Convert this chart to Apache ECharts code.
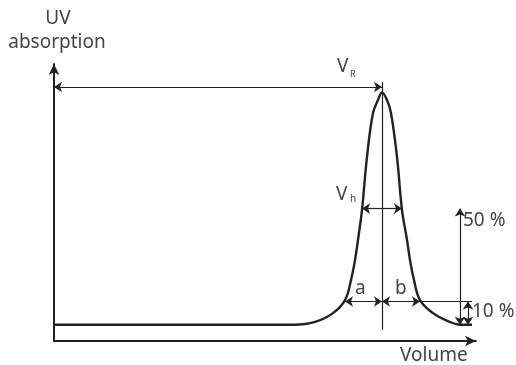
<!DOCTYPE html>
<html>
<head>
<meta charset="utf-8">
<script src="https://cdn.jsdelivr.net/npm/echarts@6/dist/echarts.min.js"></script>
<style>
  html, body { margin: 0; padding: 0; background: #fff; }
  #chart { width: 516px; height: 365px; }
</style>
</head>
<body>
<div id="chart"></div>
<script>
// peak: volume (arbitrary units) vs absorption (% of peak height)
var volume = [0, 60, 65.25, 69.75, 72.75, 74.25, 75.25, 76, 77, 78.25, 79.75, 81, 82,
  83.25, 84.25, 85.75, 87, 88.25, 89, 90, 91.5, 94.75, 99, 101.5, 104.5];
var absorption = [0, 0, 1.2, 5, 10.6, 19.2, 27.8, 36.5, 49.4, 72.2, 91.1, 96.7, 100,
  96.7, 91.1, 72.2, 49.4, 36.5, 27.8, 19.2, 10.6, 5, 1.2, 0, 0];

// annotation geometry (same units)
var peakCenter = 82;          // V_R
var levels = [50, 10];        // 50 % and 10 % of peak height
var halfWidth = [77, 87];     // V_h at 50 %
var tenWidth = [72.75, 91.5]; // a / b at 10 %
var levelEnds = [108.5, 104.5];
var dimX = [101.5, 103.5];
var vrY = 102.3;
var centerLine = [104.4, -2.2];

var ink = "#222";
var textInk = "#444";
var font = "Noto Sans";

function seg(x1, y1, s1, x2, y2, s2) {
  return [
    { coord: [x1, y1], symbol: s1 },
    { coord: [x2, y2], symbol: s2 },
  ];
}

function label(text, x, y, size, align) {
  return {
    type: "text",
    x: x,
    y: y,
    style: {
      text: text,
      fontSize: size,
      fontFamily: font,
      fill: textInk,
      textAlign: align || "left",
      textVerticalAlign: "top",
    },
  };
}

var chart = echarts.init(document.getElementById("chart"), null, { renderer: "canvas" });

var option = {
  animation: false,
  grid: { left: 54, top: 64, width: 422, height: 277 },
  xAxis: {
    type: "value",
    min: 0,
    max: 105.5,
    axisLine: {
      show: true,
      onZero: false,
      symbol: ["none", "arrow"],
      symbolSize: [8, 11],
      lineStyle: { color: ink, width: 2 },
    },
    axisTick: { show: false },
    axisLabel: { show: false },
    splitLine: { show: false },
  },
  yAxis: {
    type: "value",
    min: -7,
    max: 112.2,
    axisLine: {
      show: true,
      onZero: false,
      symbol: ["none", "arrow"],
      symbolSize: [8, 11],
      lineStyle: { color: ink, width: 2 },
    },
    axisTick: { show: false },
    axisLabel: { show: false },
    splitLine: { show: false },
  },
  series: [
    {
      type: "line",
      data: volume.map(function (v, i) { return [v, absorption[i]]; }),
      smooth: 0.4,
      showSymbol: false,
      clip: false,
      lineStyle: { color: ink, width: 2.4 },
      markLine: {
        silent: true,
        symbolSize: 8,
        label: { show: false },
        lineStyle: { color: ink, width: 1.2, type: "solid" },
        data: [
          seg(0, vrY, "arrow", peakCenter, vrY, "arrow"),
          seg(peakCenter, centerLine[0], "none", peakCenter, centerLine[1], "none"),
          seg(halfWidth[0], levels[0], "none", levelEnds[0], levels[0], "none"),
          seg(peakCenter, levels[0], "none", halfWidth[0], levels[0], "arrow"),
          seg(peakCenter, levels[0], "none", halfWidth[1], levels[0], "arrow"),
          seg(tenWidth[0], levels[1], "none", levelEnds[1], levels[1], "none"),
          seg(tenWidth[0], levels[1], "arrow", peakCenter, levels[1], "arrow"),
          seg(peakCenter, levels[1], "arrow", tenWidth[1], levels[1], "arrow"),
          seg(dimX[0], levels[0], "arrow", dimX[0], 0, "arrow"),
          seg(dimX[1], levels[1], "arrow", dimX[1], 0, "arrow"),
        ],
      },
    },
  ],
  graphic: [
    label("UV", 58, 9, 19, "center"),
    label("absorption", 57, 33, 19, "center"),
    label("V", 337, 57, 19),
    label("R", 350, 70, 9),
    label("V", 336, 185, 19),
    label("h", 350, 194, 10),
    label("a", 355, 279, 19),
    label("b", 395, 279, 19),
    label("50 %", 463, 211, 19),
    label("10 %", 472, 302, 19),
    label("Volume", 400, 346, 19),
  ],
};

chart.setOption(option);
</script>
</body>
</html>
